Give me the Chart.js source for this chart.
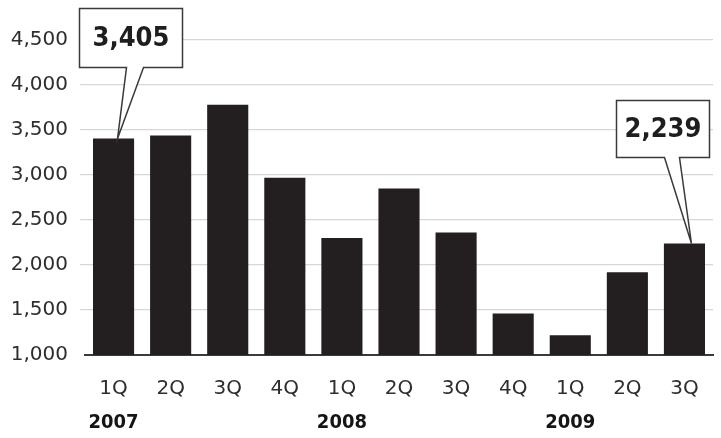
<!DOCTYPE html>
<html>
<head>
<meta charset="utf-8">
<script src="https://cdn.jsdelivr.net/npm/chart.js@4/dist/chart.umd.min.js"></script>
<style>
  html, body { margin: 0; padding: 0; background: #ffffff; }
  #wrap { width: 721px; height: 438px; position: relative; }
</style>
</head>
<body>
<div id="wrap"><canvas id="c" width="721" height="438"></canvas></div>
<script>
const quarters = ["1Q", "2Q", "3Q", "4Q", "1Q", "2Q", "3Q", "4Q", "1Q", "2Q", "3Q"];
const years = ["2007", "", "", "", "2008", "", "", "", "2009", "", ""];
const values = [3405, 3440, 3780, 2970, 2300, 2850, 2360, 1460, 1220, 1920, 2239];
const yTicks = [1000, 1500, 2000, 2500, 3000, 3500, 4000, 4500];
const callouts = [
  { index: 0, text: "3,405" },
  { index: 10, text: "2,239" }
];

const FONT = "'DejaVu Sans', sans-serif";
const FONT_C = "'DejaVu Sans Condensed', 'DejaVu Sans', sans-serif";
const TEXT = "#2e2e2e";

const calloutPlugin = {
  id: "callouts",
  afterDatasetsDraw(chart) {
    const ctx = chart.ctx;
    const meta = chart.getDatasetMeta(0);
    const geom = [
      { dx: 17, boxBottom: 72, w: 103, h: 59, tipDx: 4, baseL: 47, baseR: 64 },
      { dx: -22, boxBottom: 86, w: 93, h: 57, tipDx: 7, baseL: 48, baseR: 63 }
    ];
    callouts.forEach((c, k) => {
      const bar = meta.data[c.index];
      const g = geom[k];
      const tipX = bar.x + g.tipDx;
      const tipY = bar.y;
      const cx = bar.x + g.dx;
      const bottom = Math.round(tipY - g.boxBottom) + 0.5;
      const left = Math.round(cx - g.w / 2) + 0.5;
      const right = left + g.w;
      const top = bottom - g.h;
      ctx.save();
      ctx.beginPath();
      ctx.moveTo(left, top);
      ctx.lineTo(right, top);
      ctx.lineTo(right, bottom);
      ctx.lineTo(left + g.baseR, bottom);
      ctx.lineTo(tipX, tipY);
      ctx.lineTo(left + g.baseL, bottom);
      ctx.lineTo(left, bottom);
      ctx.closePath();
      ctx.fillStyle = "#ffffff";
      ctx.fill();
      ctx.lineWidth = 1.5;
      ctx.strokeStyle = "#3a3a3a";
      ctx.stroke();
      ctx.fillStyle = "#1e1e1e";
      ctx.font = "bold 27px " + FONT_C;
      ctx.textAlign = "center";
      ctx.textBaseline = "middle";
      ctx.fillText(c.text, (left + right) / 2, (top + bottom) / 2 + 1);
      ctx.restore();
    });
  }
};

new Chart(document.getElementById("c"), {
  type: "bar",
  data: {
    labels: quarters,
    datasets: [{
      data: values,
      backgroundColor: "#231f20",
      borderWidth: 0,
      categoryPercentage: 0.72,
      barPercentage: 1.0
    }]
  },
  options: {
    responsive: false,
    animation: false,
    devicePixelRatio: 1,
    layout: { padding: { top: 40, right: 8, left: 0, bottom: 0 } },
    plugins: { legend: { display: false }, tooltip: { enabled: false } },
    scales: {
      y: {
        min: 1000,
        max: 4500,
        afterBuildTicks(axis) { axis.ticks = yTicks.map(v => ({ value: v })); },
        afterFit(axis) { axis.width = 85; },
        border: { display: false },
        grid: {
          color: (c) => c.tick && c.tick.value === 1000 ? "rgba(0,0,0,0)" : "#d6d6d6",
          lineWidth: 1.2,
          drawTicks: true,
          tickLength: 5
        },
        ticks: {
          padding: 12,
          color: TEXT,
          font: { family: FONT, size: 20 },
          callback: (v) => v.toLocaleString("en-US")
        }
      },
      x: {
        position: "bottom",
        afterFit(axis) { axis.height = 52; },
        border: { display: true, color: "#3a3a3a", width: 2 },
        grid: { display: false },
        ticks: {
          padding: 14,
          color: TEXT,
          font: { family: FONT, size: 20 },
          maxRotation: 0,
          autoSkip: false
        }
      },
      x2: {
        type: "category",
        position: "bottom",
        labels: years,
        afterFit(axis) { axis.height = 31; },
        border: { display: false },
        grid: { display: false, drawTicks: false },
        ticks: {
          padding: 4,
          color: "#151515",
          font: { family: FONT_C, size: 20, weight: "bold" },
          maxRotation: 0,
          autoSkip: false
        }
      }
    }
  },
  plugins: [calloutPlugin]
});
</script>
</body>
</html>
